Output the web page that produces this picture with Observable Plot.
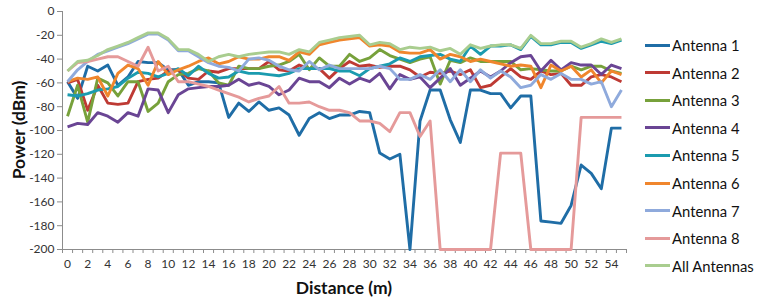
<!DOCTYPE html>
<html>
<head>
<meta charset="utf-8">
<script src="https://cdn.jsdelivr.net/npm/d3@7"></script>
<script src="https://cdn.jsdelivr.net/npm/@observablehq/plot@0.6"></script>
<style>
  html, body { margin: 0; padding: 0; background: #fff; }
  #wrap { position: relative; width: 764px; height: 304px; font-family: Lato, "Open Sans", sans-serif; }
  #legend { position: absolute; left: 645px; top: 0; }
  .item { position: absolute; left: 0; width: 120px; height: 20px; }
  .sw { position: absolute; left: 0; top: 8.5px; width: 25px; height: 3px; }
  .lt { position: absolute; left: 27px; top: 0; font-size: 14.8px; line-height: 20px; color: #111; white-space: nowrap; }
  .ttl { position: absolute; font-weight: bold; font-size: 17.5px; color: #111; white-space: nowrap; }
</style>
</head>
<body>
<div id="wrap"></div>
<script>
const distance = [0,1,2,3,4,5,6,7,8,9,10,11,12,13,14,15,16,17,18,19,20,21,22,23,24,25,26,27,28,29,30,31,32,33,34,35,36,37,38,39,40,41,42,43,44,45,46,47,48,49,50,51,52,53,54,55];

const antenna1 = [-59,-73,-46,-50,-45,-62,-55,-42,-43,-43,-49,-49,-62,-59,-59,-60,-89,-77,-84,-76,-83,-81,-87,-104,-90,-85,-90,-87,-87,-84,-85,-119,-124,-120,-200,-92,-66,-66,-91,-110,-66,-66,-69,-69,-81,-71,-71,-176,-177,-178,-163,-129,-136,-149,-98,-98];
const antenna2 = [-60,-57,-83,-62,-77,-78,-77,-59,-57,-56,-50,-49,-56,-57,-50,-51,-48,-48,-48,-48,-42,-49,-50,-45,-48,-48,-56,-48,-42,-46,-45,-47,-46,-46,-49,-55,-51,-52,-50,-53,-49,-64,-62,-55,-48,-55,-57,-50,-53,-52,-62,-62,-55,-53,-55,-59];
const antenna3 = [-88,-62,-93,-56,-60,-71,-59,-59,-84,-77,-59,-53,-52,-48,-50,-60,-62,-46,-48,-48,-46,-45,-42,-36,-49,-39,-46,-46,-36,-42,-39,-32,-37,-40,-43,-40,-38,-61,-41,-43,-39,-42,-42,-42,-42,-49,-48,-49,-50,-50,-46,-49,-46,-46,-50,-52];
const antenna4 = [-97,-94,-95,-85,-88,-93,-85,-88,-65,-66,-85,-70,-65,-64,-63,-63,-62,-57,-62,-60,-63,-70,-66,-56,-59,-59,-64,-56,-61,-56,-59,-52,-65,-53,-57,-55,-64,-56,-48,-62,-56,-50,-55,-50,-43,-38,-37,-50,-41,-49,-43,-45,-45,-53,-45,-48];
const antenna5 = [-70,-71,-69,-66,-65,-63,-56,-51,-52,-55,-52,-48,-54,-46,-52,-56,-55,-50,-52,-52,-53,-54,-52,-48,-48,-48,-48,-50,-50,-54,-48,-46,-44,-39,-42,-38,-37,-36,-40,-42,-29,-36,-29,-29,-28,-32,-21,-28,-28,-26,-26,-31,-28,-25,-27,-24];
const antenna6 = [-59,-56,-57,-55,-71,-52,-45,-48,-62,-42,-53,-49,-46,-42,-39,-44,-42,-38,-40,-40,-38,-38,-41,-34,-36,-28,-26,-24,-23,-22,-29,-28,-29,-34,-35,-35,-32,-40,-36,-38,-42,-40,-42,-44,-46,-45,-46,-64,-45,-50,-46,-55,-49,-60,-50,-53];
const antenna7 = [-59,-49,-42,-36,-33,-30,-27,-23,-19,-19,-24,-33,-33,-38,-43,-46,-47,-50,-40,-39,-41,-46,-49,-50,-42,-49,-45,-48,-48,-48,-48,-46,-48,-57,-57,-53,-57,-49,-59,-49,-59,-49,-56,-50,-55,-64,-62,-53,-57,-52,-57,-57,-61,-59,-80,-66];
const antenna8 = [-50,-43,-42,-40,-38,-38,-42,-46,-30,-50,-46,-59,-59,-61,-63,-66,-69,-72,-76,-73,-71,-63,-77,-77,-76,-80,-83,-83,-85,-92,-92,-94,-101,-85,-85,-105,-92,-200,-200,-200,-200,-200,-200,-119,-119,-119,-200,-200,-200,-200,-200,-89,-89,-89,-89,-89];
const allAntennas = [-50,-42,-41,-37,-32,-29,-26,-22,-18,-18,-23,-32,-32,-36,-42,-38,-36,-38,-36,-35,-34,-34,-36,-32,-34,-26,-24,-22,-21,-20,-28,-26,-27,-32,-30,-31,-30,-33,-31,-36,-28,-31,-29,-28,-28,-31,-20,-27,-27,-25,-25,-30,-27,-23,-26,-23];

const seriesNames = ["Antenna 1","Antenna 2","Antenna 3","Antenna 4","Antenna 5","Antenna 6","Antenna 7","Antenna 8","All Antennas"];
const seriesColors = ["#1F6DA6","#BE3A34","#77A13B","#6A4594","#1B9BAF","#F0862D","#8FAADC","#E59A9A","#A9CD8F"];
const seriesValues = [antenna1, antenna2, antenna3, antenna4, antenna5, antenna6, antenna7, antenna8, allAntennas];

const yTicks = [-200,-180,-160,-140,-120,-100,-80,-60,-40,-20,0];
const xTickLabels = [0,2,4,6,8,10,12,14,16,18,20,22,24,26,28,30,32,34,36,38,40,42,44,46,48,50,52,54];
const xBoundaries = distance.map(d => d - 0.5).concat([distance[distance.length - 1] + 0.5]);

const rows = [];
seriesValues.forEach((vals, s) => {
  vals.forEach((v, i) => rows.push({series: seriesNames[s], x: distance[i], y: v}));
});

const axisColor = "#8c8c8c";
const chart = Plot.plot({
  width: 764,
  height: 304,
  marginLeft: 62,
  marginRight: 138,
  marginTop: 11,
  marginBottom: 55,
  style: {fontFamily: "Lato, 'Open Sans', sans-serif", fontSize: "12px", color: "#333", background: "#fff"},
  x: {domain: [-0.5, 55.5]},
  y: {domain: [-200, 0]},
  color: {domain: seriesNames, range: seriesColors},
  marks: [
    Plot.axisY({ticks: yTicks, tickFormat: d => String(d), tickSize: 5, tickPadding: 3, stroke: axisColor, label: null, fontSize: 12}),
    Plot.axisX({ticks: xBoundaries, tickFormat: () => "", tickSize: 4, stroke: axisColor, label: null}),
    Plot.axisX({ticks: xTickLabels, tickFormat: d => String(d), tickSize: 0, tickPadding: 10, label: null, fontSize: 12}),
    Plot.ruleX([-0.5], {stroke: axisColor, strokeWidth: 1}),
    Plot.ruleY([-200], {stroke: axisColor, strokeWidth: 1}),
    Plot.line(rows, {x: "x", y: "y", z: "series", stroke: "series", strokeWidth: 2.9, strokeLinejoin: "round", strokeLinecap: "butt"})
  ]
});

const wrap = document.getElementById("wrap");
chart.style.position = "absolute";
chart.style.left = "0px";
chart.style.top = "0px";
wrap.appendChild(chart);

const legend = document.createElement("div");
legend.id = "legend";
seriesNames.forEach((name, i) => {
  const item = document.createElement("div");
  item.className = "item";
  item.style.top = (35 + i * 27.6) + "px";
  const sw = document.createElement("div");
  sw.className = "sw";
  sw.style.background = seriesColors[i];
  const lt = document.createElement("div");
  lt.className = "lt";
  lt.textContent = name;
  item.appendChild(sw);
  item.appendChild(lt);
  legend.appendChild(item);
});
wrap.appendChild(legend);

const xt = document.createElement("div");
xt.className = "ttl";
xt.textContent = "Distance (m)";
xt.style.left = "344px";
xt.style.top = "287px";
xt.style.transform = "translate(-50%, -50%)";
wrap.appendChild(xt);

const yt = document.createElement("div");
yt.className = "ttl";
yt.textContent = "Power (dBm)";
yt.style.left = "18px";
yt.style.top = "130px";
yt.style.transform = "translate(-50%, -50%) rotate(-90deg)";
wrap.appendChild(yt);
</script>
</body>
</html>
